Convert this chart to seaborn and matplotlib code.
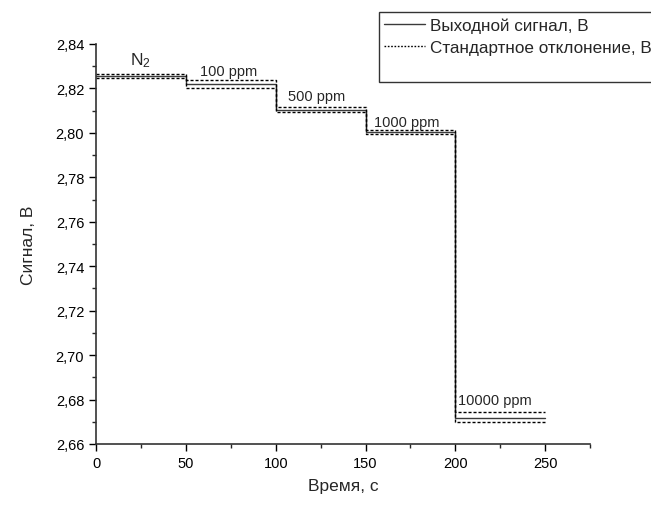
import numpy as np
import pandas as pd
import matplotlib
matplotlib.use("Agg")
import matplotlib.pyplot as plt
import seaborn as sns
from matplotlib.ticker import MultipleLocator, FuncFormatter
from matplotlib.lines import Line2D

# step edges (s) and signal levels
time_edges = [0, 50, 100, 150, 200, 250]
signal = [2.8256, 2.8220, 2.8105, 2.8005, 2.6717]
std_upper = [2.8265, 2.8238, 2.8115, 2.8013, 2.6744]
std_lower = [2.8245, 2.8202, 2.8093, 2.7995, 2.6700]

labels = ["N$_2$", "100 ppm", "500 ppm", "1000 ppm", "10000 ppm"]
label_x = [24.5, 74, 123, 173, 222]
label_y = [2.8288, 2.8245, 2.8133, 2.8017, 2.6766]
label_size = [12.5, 10.5, 10.5, 10.5, 10.5]

# last level repeated so the step reaches 250 s
df = pd.DataFrame({
    "t": time_edges,
    "sig": signal + signal[-1:],
    "up": std_upper + std_upper[-1:],
    "lo": std_lower + std_lower[-1:],
})

sns.set_style("ticks")
plt.rcParams['font.family'] = ['Liberation Sans', 'DejaVu Sans']
plt.rcParams['mathtext.fontset'] = 'custom'
plt.rcParams['mathtext.rm'] = 'Liberation Sans'
plt.rcParams['mathtext.it'] = 'Liberation Sans'

fig = plt.figure(figsize=(6.51, 5.06), dpi=100)
ax = fig.add_axes([0.1475, 0.1206, 0.759, 0.7905])

sns.lineplot(data=df, x="t", y="sig", drawstyle="steps-post", color="#3a3a3a",
             linewidth=1.0, ax=ax, sort=False)
for col in ["up", "lo"]:
    sns.lineplot(data=df, x="t", y=col, drawstyle="steps-post", color="black",
                 linewidth=1.0, dashes=False, ax=ax, sort=False)
for line in ax.lines[1:]:
    line.set_dashes((2.2, 1.4))

for txt, x, y, fs in zip(labels, label_x, label_y, label_size):
    ax.text(x, y, txt, ha="center", va="bottom", fontsize=fs)

ax.set_xlim(0, 275)
ax.set_ylim(2.66, 2.84)
ax.xaxis.set_major_locator(MultipleLocator(50))
ax.xaxis.set_minor_locator(MultipleLocator(25))
ax.yaxis.set_major_locator(MultipleLocator(0.02))
ax.yaxis.set_minor_locator(MultipleLocator(0.01))
ax.yaxis.set_major_formatter(FuncFormatter(lambda v, p: f"{v:.2f}".replace(".", ",")))
ax.tick_params(which="major", direction="out", length=5, width=1, labelsize=10.5, colors="black")
ax.tick_params(which="minor", direction="out", length=3, width=1)
for side in ["top", "right"]:
    ax.spines[side].set_visible(False)
for side in ["left", "bottom"]:
    ax.spines[side].set_linewidth(1.2)
    ax.spines[side].set_color("#333333")

ax.set_xlabel("Время, с", fontsize=12.5, labelpad=6)
ax.set_ylabel("Сигнал, В", fontsize=12.5, labelpad=14)

handles = [
    Line2D([], [], color="#3a3a3a", linewidth=1.0),
    Line2D([], [], color="black", linewidth=1.0, linestyle=(0, (1.2, 1.2))),
    Line2D([], [], color="none"),
]
leg = fig.legend(handles, ["Выходной сигнал, В", "Стандартное отклонение, В", " "],
                 loc="upper left", bbox_to_anchor=(379 / 651, 1 - 13 / 506),
                 frameon=True, fancybox=False, fontsize=12.3, handlelength=2.4,
                 handletextpad=0.3, borderpad=0.3, labelspacing=0.42, borderaxespad=0)
leg.get_frame().set_edgecolor("black")
leg.get_frame().set_linewidth(1.0)

fig.savefig("out.png", dpi=100)
